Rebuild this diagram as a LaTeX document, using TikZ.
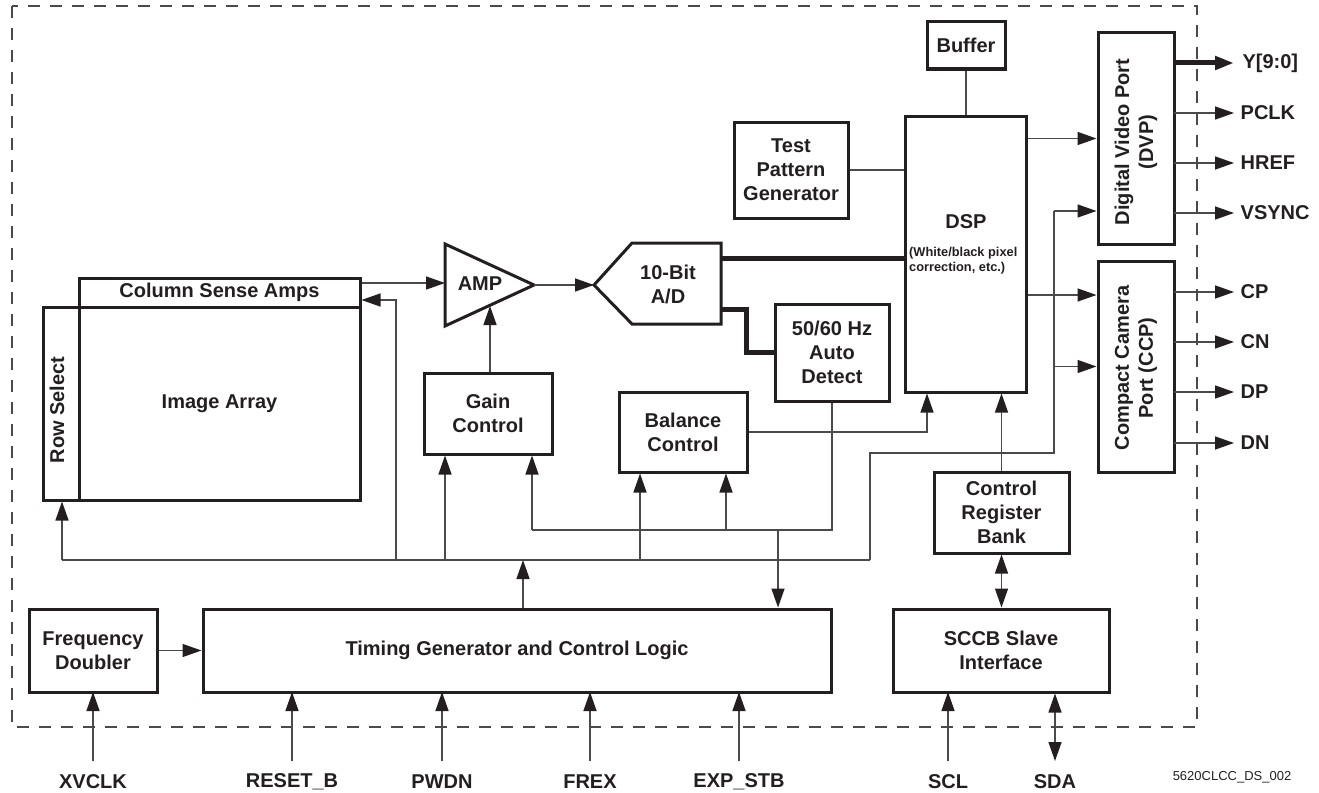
\documentclass[tikz,border=0pt]{standalone}
\usepackage{fontspec}
\setmainfont{Liberation Sans}
\usetikzlibrary{arrows.meta}
\definecolor{ink}{HTML}{231F20}
\definecolor{wiregray}{HTML}{4A4A4A}

\tikzset{
  blk/.style={draw=ink, line width=3pt, text=ink, align=center, inner sep=0pt,
    font=\bfseries\fontsize{20}{24}\selectfont},
  lbl/.style={text=ink, align=center, inner sep=0pt, font=\bfseries\fontsize{20}{24}\selectfont},
  note/.style={text=ink, align=left, inner sep=0pt, font=\bfseries\fontsize{12.8}{15}\selectfont},
  shp/.style={draw=ink, line width=3pt, line join=miter},
  tip/.tip={Triangle[length=19pt,width=13pt,color=ink]},
  wr/.style={draw=wiregray, line width=1.4pt},
  arr/.style={wr, -tip},
  arrs/.style={wr, tip-tip},
  bus/.style={draw=ink, line width=5pt},
}

\begin{document}
\begin{tikzpicture}[x=1pt, y=-1pt]
  \useasboundingbox (0,0) rectangle (1319,792);

  % Chip outline
  \draw[wiregray, line width=1.5pt, dash pattern=on 12pt off 10pt] (12,6) rectangle (1197,727);

  % Pixel array
  \node[blk, minimum width=281pt, minimum height=29pt] (csa) at (219.5,292.5) {Column Sense Amps};
  \node[blk, minimum width=281pt, minimum height=193pt] (img) at (219.5,403.5) {Image Array};
  \node[blk, minimum width=36pt, minimum height=193pt] (row) at (61,403.5) {};
  \node[lbl, rotate=90] (rowtxt) at (57,410) {Row Select};

  % Amplifier and A/D converter
  \draw[shp] (445,244) -- (534,285) -- (445,326) -- cycle;
  \node[lbl] (amp) at (480,284) {AMP};
  \draw[shp] (594,285) -- (632,243) -- (721,243) -- (721,324) -- (632,324) -- cycle;
  \node[lbl] (adc) at (668,284) {10-Bit\\A/D};
  \coordinate (ampin) at (445,283);
  \coordinate (ampout) at (534,285);
  \coordinate (ampbot) at (490,306);
  \coordinate (adcin) at (594,285);
  \coordinate (adcd) at (721,258);
  \coordinate (adcf) at (721,309);

  % Control blocks
  \node[blk, minimum width=128pt, minimum height=81pt] (gain) at (488,413.5) {Gain\\Control};
  \node[blk, minimum width=128pt, minimum height=80pt] (bal) at (683,432) {Balance\\Control};
  \node[blk, minimum width=114pt, minimum height=97pt] (det) at (832,352.5) {50/60 Hz\\Auto\\Detect};
  \node[blk, minimum width=114pt, minimum height=96pt] (tpg) at (791,170) {Test\\Pattern\\Generator};
  \node[blk, minimum width=78pt, minimum height=47pt] (buf) at (966,45.5) {Buffer};
  \node[blk, minimum width=121pt, minimum height=276pt] (dsp) at (965.5,254) {};
  \node[lbl] (dsptxt) at (966,222) {DSP};
  \node[note, anchor=west] (dspnote) at (909,260.5) {(White/black pixel\\correction, etc.)};

  % Output ports
  \node[blk, minimum width=76pt, minimum height=211pt] (dvp) at (1136,138.5) {};
  \node[lbl, rotate=90] (dvptxt) at (1136,142) {Digital Video Port\\(DVP)};
  \node[blk, minimum width=76pt, minimum height=211pt] (ccp) at (1136,366.5) {};
  \node[lbl, rotate=90] (ccptxt) at (1136,368) {Compact Camera\\Port (CCP)};

  % Serial control
  \node[blk, minimum width=135pt, minimum height=81pt] (crb) at (1001.5,512.5) {Control\\Register\\Bank};
  \node[blk, minimum width=216pt, minimum height=83pt] (sccb) at (1001,650.5) {SCCB Slave\\Interface};

  % Timing
  \node[blk, minimum width=128pt, minimum height=83pt] (dbl) at (93,650.5) {Frequency\\Doubler};
  \node[blk, minimum width=628pt, minimum height=83pt] (tim) at (517,650.5) {Timing Generator and Control Logic};

  % Signal path
  \draw[arr] (csa.east |- ampin) -- (ampin);
  \draw[arr] (ampout) -- (adcin);
  \draw[arr] (gain.north -| ampbot) -- (ampbot);
  \draw[bus] (adcd) -- (adcd -| dsp.west);
  \draw[bus, line join=miter] (adcf) -- ++(25,0) |- (det.west);
  \draw[wr] (tpg.east) -- (tpg.east -| dsp.west);
  \draw[wr] (buf.south) -- (buf.south |- dsp.north);

  % DSP to ports
  \draw[arr] (dsp.east |- dvp.west) -- (dvp.west);
  \draw[arr] (dsp.east |- 0,295) -- (ccp.west |- 0,295);
  \draw[wr] (870,560) |- (1054,453) -- (1054,211);
  \draw[arr] (1054,211) -- (dvp.west |- 0,211);
  \draw[arr] (1054,0 |- ccp.west) -- (ccp.west);

  % Control bus
  \coordinate (busw) at (62,560);
  \coordinate (buse) at (870,560);
  \draw[wr] (busw) -- (buse);
  \draw[arr] (523,0 |- tim.north) -- (523,0 |- busw);
  \draw[arr] (busw) -- (busw |- row.south);
  \draw[arr] (396,0 |- busw) |- ([yshift=-7.5pt]csa.east);
  \draw[arr] (445,0 |- busw) -- (445,0 |- gain.south);
  \draw[arr] (640,0 |- busw) -- (640,0 |- bal.south);

  % Flicker detect feedback
  \draw[wr] (det.south) |- (532,530);
  \draw[arr] (532,530) -- (532,0 |- gain.south);
  \draw[arr] (726,530) -- (726,0 |- bal.south);
  \draw[arr] (778,530) -- (778,0 |- tim.north);
  \draw[arr] (bal.east) -| (927,0 |- dsp.south);
  \draw[arr] (crb.north) -- (crb.north |- dsp.south);
  \draw[arrs] (crb.south) -- (crb.south |- sccb.north);
  \draw[arr] (dbl.east) -- (dbl.east -| tim.west);

  % Output pins
  \draw[bus, -tip] (dvp.east |- 0,63) -- (1234,63)
    node[lbl, anchor=west, xshift=6pt] (ypin) {Y[9:0]};
  \foreach \y/\t [count=\i] in {113/PCLK, 163/HREF, 213/VSYNC, 292/CP, 342/CN, 392/DP, 443/DN} {
    \draw[arr] (1174,\y) -- (1234,\y) node[lbl, anchor=west, xshift=6pt] (out\i) {\t};
  }

  % Input pins
  \foreach \x/\t [count=\i] in {93/XVCLK, 292/RESET\_B, 442/PWDN, 590/FREX, 739/EXP\_STB, 948/SCL} {
    \node[lbl] (pin\i) at (\x,782) {\t};
    \draw[arr] (\x,761) -- (\x,692);
  }
  \node[lbl] (sda) at (1055,782) {SDA};
  \draw[arrs] (sda.north |- 0,761) -- (sda.north |- sccb.south);

  \node[text=ink, inner sep=0pt, font=\fontsize{13}{15}\selectfont] (figid) at (1232,777) {5620CLCC\_DS\_002};
\end{tikzpicture}
\end{document}
